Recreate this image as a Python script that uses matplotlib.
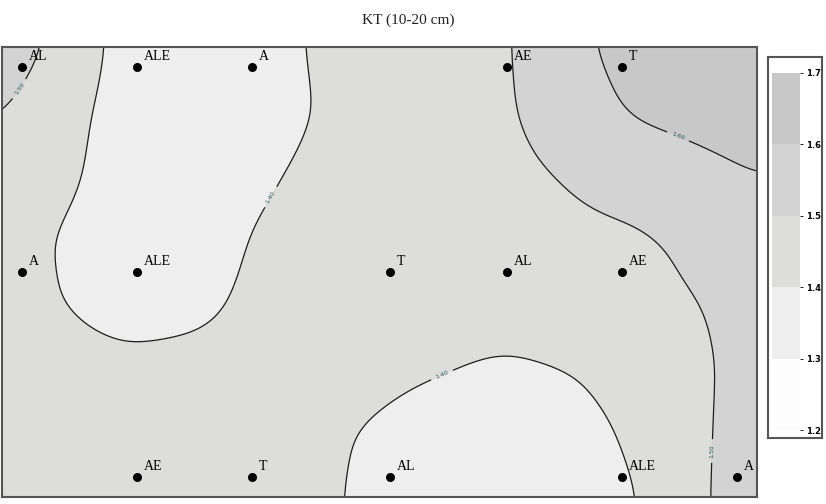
import numpy as np
import matplotlib
matplotlib.use("Agg")
import matplotlib.pyplot as plt

# sampling plots (x, y in field units) and their treatment labels
pt_x = [20, 135, 250, 505, 620, 20, 135, 388, 505, 620, 135, 250, 388, 620, 735]
pt_y = [430, 430, 430, 430, 430, 225, 225, 225, 225, 225, 20, 20, 20, 20, 20]
pt_lbl = ["AL", "ALE", "A", "AE", "T", "A", "ALE", "T", "AL", "AE",
          "AE", "T", "AL", "ALE", "A"]

# KT values on a coarse grid (rows from bottom to top)
grid_x = [0, 63, 126, 189, 252, 315, 378, 441, 504, 567, 630, 693, 755]
grid_y = [0, 64, 129, 193, 257, 321, 386, 450]
grid_kt = [
    [1.45, 1.45, 1.45, 1.44, 1.43, 1.415, 1.38, 1.35, 1.34, 1.36, 1.39, 1.48, 1.56],
    [1.45, 1.45, 1.45, 1.44, 1.43, 1.415, 1.39, 1.36, 1.35, 1.37, 1.41, 1.48, 1.55],
    [1.45, 1.44, 1.43, 1.43, 1.43, 1.43, 1.42, 1.405, 1.38, 1.40, 1.43, 1.48, 1.54],
    [1.43, 1.40, 1.35, 1.375, 1.42, 1.43, 1.44, 1.45, 1.46, 1.47, 1.48, 1.497, 1.53],
    [1.44, 1.39, 1.34, 1.34, 1.41, 1.425, 1.44, 1.455, 1.47, 1.48, 1.485, 1.515, 1.54],
    [1.46, 1.42, 1.35, 1.32, 1.385, 1.42, 1.436, 1.459, 1.48, 1.505, 1.54, 1.57, 1.60],
    [1.505, 1.43, 1.36, 1.32, 1.35, 1.405, 1.435, 1.46, 1.49, 1.545, 1.61, 1.63, 1.65],
    [1.56, 1.466, 1.36, 1.33, 1.36, 1.41, 1.44, 1.46, 1.49, 1.57, 1.64, 1.67, 1.70],
]

levels = [1.2, 1.3, 1.4, 1.5, 1.6, 1.7]
tick_lbl = ["1.2", "1.3", "1.4", "1.5", "1.6", "1.7"]
fills = ["#fdfdfd", "#eeeeee", "#dddedb", "#d3d3d3", "#c8c8c8"]


def smooth(a, s):
    k = np.exp(-0.5 * (np.arange(-3 * s, 3 * s + 1) / s) ** 2)
    k /= k.sum()
    f = lambda m: np.convolve(np.pad(m, 3 * s, mode="edge"), k, mode="valid")
    a = np.apply_along_axis(f, 0, a)
    return np.apply_along_axis(f, 1, a)


fx = np.arange(0, 756, 2)
fy = np.arange(0, 451, 2)
g = np.array(grid_kt)
tmp = np.array([np.interp(fx, grid_x, row) for row in g])
z = np.array([np.interp(fy, grid_y, tmp[:, j]) for j in range(len(fx))]).T
z = np.clip(smooth(z, 8), 1.2, 1.7)

fig = plt.figure(figsize=(8.26, 5.04), dpi=100)
ax = fig.add_axes([2 / 826, 7 / 504, 755 / 826, 450 / 504])
cf = ax.contourf(fx, fy, z, levels=levels, colors=fills)
cs = ax.contour(fx, fy, z, levels=[1.4, 1.5, 1.6], colors="#1e1e1e", linewidths=0.9)
ax.clabel(cs, fmt="%.2f", fontsize=4.5, colors="#2a5a5a")
ax.scatter(pt_x, pt_y, s=30, color="black", zorder=5)
for x, y, t in zip(pt_x, pt_y, pt_lbl):
    ax.annotate(t, (x, y), xytext=(5, 3), textcoords="offset points",
                fontsize=10, family="Liberation Serif", va="bottom", ha="left")
ax.set_xlim(0, 755)
ax.set_ylim(0, 450)
ax.set_xticks([])
ax.set_yticks([])
for sp in ax.spines.values():
    sp.set_color("#555555")
    sp.set_linewidth(1.5)

fig.text(408 / 826, 1 - 20 / 504, "KT (10-20 cm)", ha="center", va="center",
         fontsize=11, family="Liberation Serif", color="#222222")

box = fig.add_axes([768 / 826, 66 / 504, 54 / 826, 381 / 504])
box.set_xticks([])
box.set_yticks([])
for sp in box.spines.values():
    sp.set_color("#555555")
    sp.set_linewidth(1.5)

cax = fig.add_axes([772 / 826, 74 / 504, 28 / 826, 357 / 504])
cb = fig.colorbar(cf, cax=cax)
cb.outline.set_visible(False)
cb.set_ticks(levels)
cb.set_ticklabels(tick_lbl)
cax.tick_params(labelsize=6, length=2, width=0.6, pad=2)
for t in cax.get_yticklabels():
    t.set_fontweight("bold")

fig.savefig("out.png", dpi=100)
